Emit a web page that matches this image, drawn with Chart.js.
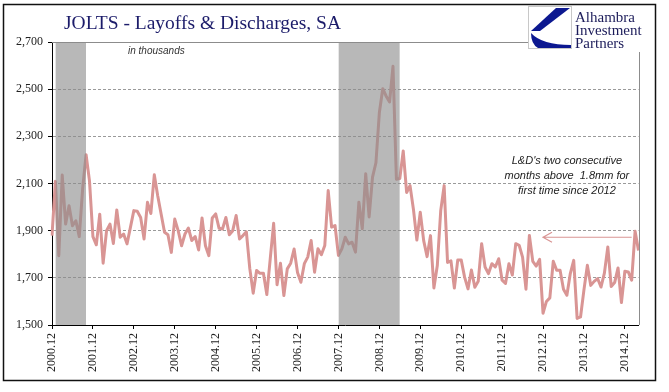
<!DOCTYPE html>
<html>
<head>
<meta charset="utf-8">
<script src="https://cdn.jsdelivr.net/npm/chart.js@4.4.1/dist/chart.umd.min.js"></script>
<style>
  html, body { margin: 0; padding: 0; background: #fff; }
  #wrap { width: 669px; height: 392px; }
  canvas { display: block; }
</style>
</head>
<body>
<div id="wrap"><canvas id="chart" width="669" height="392"></canvas></div>
<script>
// monthly series, first month = 2000.12
const firstYear = 2000;
const firstMonth = 12;

// layoffs & discharges, thousands, SA
const layoffs = [
  1879, 2109, 1794, 2136, 1928, 2006, 1921, 1942, 1875, 2080, 2222, 2110,
  1875, 1840, 1970, 1762, 1900, 1928, 1846, 1988, 1872, 1886, 1844, 1914,
  1985, 1982, 1956, 1865, 2020, 1973, 2137, 2048, 1971, 1893, 1883, 1808,
  1949, 1900, 1836, 1886, 1911, 1858, 1875, 1818, 1954, 1836, 1794, 1954,
  1971, 1910, 1907, 1956, 1883, 1900, 1964, 1865, 1879, 1895, 1740, 1635,
  1731, 1719, 1719, 1629, 1780, 1931, 1671, 1762, 1625, 1738, 1762, 1822,
  1723, 1681, 1760, 1788, 1858, 1724, 1823, 1798, 1837, 2070, 1915, 1922,
  1795, 1823, 1872, 1844, 1851, 1809, 2021, 1908, 2141, 1958, 2127, 2188,
  2400, 2502, 2470, 2446, 2597, 2118, 2121, 2238, 2062, 2091, 1990, 1860,
  1978, 1858, 1790, 1879, 1657, 1752, 1985, 2091, 1765, 1772, 1657, 1776,
  1776, 1703, 1653, 1733, 1660, 1685, 1845, 1746, 1718, 1760, 1746, 1781,
  1690, 1676, 1760, 1712, 1845, 1838, 1788, 1652, 1880, 1770, 1750, 1778,
  1550, 1600, 1615, 1770, 1732, 1732, 1652, 1626, 1718, 1774, 1528, 1534,
  1649, 1753, 1668, 1685, 1697, 1661, 1720, 1831, 1663, 1680, 1742, 1595,
  1728, 1725, 1690, 1898, 1816
];

// shaded recession periods (first and last month)
const recessions = [['2001.01', '2001.10'], ['2007.12', '2009.06']];

const yMin = 1500, yMax = 2700, yStep = 200;

const noteLines = ["L&D's two consecutive", 'months above  1.8mm for', 'first time since 2012'];
const noteAt = { month: '2013.07', value: 2200 };
const arrow = { from: '2015.02', to: '2012.12', value: 1872 };

// month labels like 2000.12, 2001.01 ...
const months = layoffs.map((v, i) => {
  const n = firstMonth - 1 + i;
  return (firstYear + Math.floor(n / 12)) + '.' + String(n % 12 + 1).padStart(2, '0');
});
const shade = months.map(m => recessions.some(([a, b]) => m >= a && m <= b) ? yMax : null);

const serif = 'Liberation Serif';
const isDec = i => months[i] && months[i].endsWith('.12');

const decor = {
  id: 'decor',
  afterDraw(chart) {
    const { ctx, chartArea: area, scales: { x, y } } = chart;
    const logoLeft = 528;
    ctx.save();

    // outer frame
    ctx.strokeStyle = '#111';
    ctx.lineWidth = 1.5;
    ctx.strokeRect(3.5, 4.5, 652, 376);

    // top rule and right edge of plot
    ctx.strokeStyle = '#8c8c8c';
    ctx.lineWidth = 1;
    const yTop = Math.round(y.getPixelForValue(yMax)) + 0.5;
    ctx.beginPath();
    ctx.moveTo(area.left, yTop);
    ctx.lineTo(logoLeft, yTop);
    ctx.moveTo(Math.round(area.right) + 0.5, 52);
    ctx.lineTo(Math.round(area.right) + 0.5, area.bottom);
    ctx.stroke();

    // title
    ctx.fillStyle = '#1c1c6a';
    ctx.font = '19.5px "' + serif + '"';
    ctx.textAlign = 'left';
    ctx.textBaseline = 'alphabetic';
    ctx.fillText('JOLTS - Layoffs & Discharges, SA', 64, 29);

    ctx.fillStyle = '#333';
    ctx.font = 'italic 10px "Liberation Sans"';
    ctx.fillText('in thousands', 128, 54);

    // note + arrow
    ctx.fillStyle = '#222';
    ctx.font = 'italic 11px "Liberation Sans"';
    ctx.textAlign = 'center';
    const nx = x.getPixelForValue(months.indexOf(noteAt.month));
    const ny = y.getPixelForValue(noteAt.value);
    noteLines.forEach((t, k) => ctx.fillText(t, nx, ny + 4 + k * 15));

    const ax1 = x.getPixelForValue(months.indexOf(arrow.from));
    const ax2 = x.getPixelForValue(months.indexOf(arrow.to));
    const ay = y.getPixelForValue(arrow.value);
    ctx.strokeStyle = '#d99594';
    ctx.lineWidth = 1.2;
    ctx.beginPath();
    ctx.moveTo(ax1, ay);
    ctx.lineTo(ax2, ay);
    ctx.moveTo(ax2 + 9, ay - 5);
    ctx.lineTo(ax2, ay);
    ctx.lineTo(ax2 + 9, ay + 5);
    ctx.stroke();

    // logo
    ctx.fillStyle = '#fff';
    ctx.fillRect(logoLeft, 6, 44, 43);
    ctx.strokeStyle = '#c8c8c8';
    ctx.lineWidth = 1;
    ctx.strokeRect(logoLeft + 0.5, 6.5, 43, 42);
    ctx.fillStyle = '#0c1890';
    ctx.beginPath();
    ctx.moveTo(556, 8);
    ctx.lineTo(570, 8);
    ctx.lineTo(540, 31);
    ctx.lineTo(531, 31);
    ctx.closePath();
    ctx.fill();
    ctx.beginPath();
    ctx.moveTo(531, 33);
    ctx.quadraticCurveTo(542, 45, 571, 45);
    ctx.lineTo(571, 48);
    ctx.lineTo(538, 48);
    ctx.quadraticCurveTo(531, 44, 531, 33);
    ctx.closePath();
    ctx.fill();

    ctx.fillStyle = '#1c1c5a';
    ctx.font = '15px "' + serif + '"';
    ctx.textAlign = 'left';
    ctx.fillText('Alhambra', 575, 22);
    ctx.fillText('Investment', 575, 35);
    ctx.fillText('Partners', 575, 47.5);

    ctx.restore();
  }
};

new Chart(document.getElementById('chart'), {
  type: 'line',
  data: {
    labels: months,
    datasets: [
      {
        label: 'Recession',
        data: shade,
        borderWidth: 0,
        borderColor: 'transparent',
        backgroundColor: 'rgba(140,140,140,0.62)',
        pointRadius: 0,
        fill: 'start',
        order: 0
      },
      {
        label: 'Layoffs & Discharges',
        data: layoffs,
        borderColor: '#d99594',
        borderWidth: 3,
        borderJoinStyle: 'round',
        pointRadius: 0,
        tension: 0,
        fill: false,
        order: 1
      }
    ]
  },
  options: {
    responsive: false,
    animation: false,
    layout: { padding: { left: 0, right: 30.5, top: 42, bottom: 0 } },
    plugins: { legend: { display: false }, tooltip: { enabled: false } },
    scales: {
      x: {
        offset: false,
        grid: {
          drawOnChartArea: false,
          tickLength: 4,
          color: c => isDec(c.index) ? '#000' : 'transparent',
          tickColor: c => isDec(c.index) ? '#000' : 'transparent'
        },
        border: { color: '#000', width: 1 },
        ticks: {
          autoSkip: false,
          maxRotation: 90,
          minRotation: 90,
          padding: 4,
          color: '#222',
          font: { family: serif, size: 12 },
          callback: (v, i) => isDec(i) ? months[i] : ''
        },
        afterFit: s => { s.height = 67; }
      },
      y: {
        min: yMin,
        max: yMax,
        ticks: {
          stepSize: yStep,
          padding: 5,
          color: '#222',
          font: { family: serif, size: 12 },
          callback: v => v.toLocaleString('en-US')
        },
        grid: {
          color: c => (c.tick.value === yMin || c.tick.value === yMax) ? 'transparent' : '#9a9a9a',
          tickColor: '#000',
          tickLength: 4,
          lineWidth: 1
        },
        border: { color: '#000', width: 1, dash: [3, 2] },
        afterFit: s => { s.width = 52; }
      }
    }
  },
  plugins: [decor]
});
</script>
</body>
</html>
